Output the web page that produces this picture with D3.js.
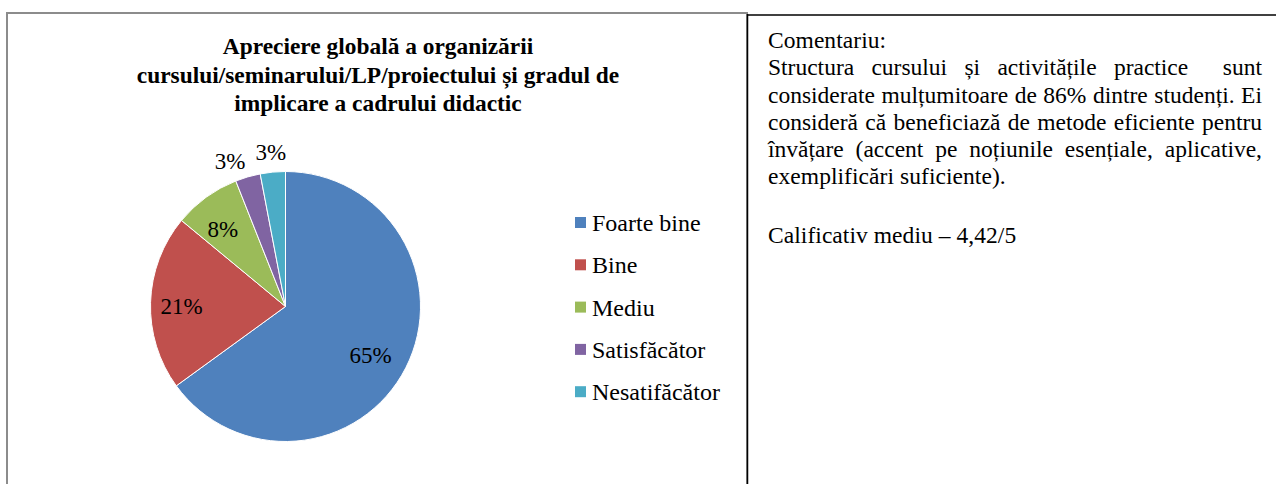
<!DOCTYPE html>
<html>
<head>
<meta charset="utf-8">
<script src="https://cdn.jsdelivr.net/npm/d3@7"></script>
<style>
  body { margin: 0; background: #fff; }
  #wrap { position: relative; width: 1276px; height: 484px; overflow: hidden; }
  #note { position: absolute; left: 768px; top: 27px; width: 494px;
          font-family: "Liberation Serif", "Times New Roman", serif; font-size: 23.5px;
          line-height: 27.3px; color: #000; }
  #note .j { text-align: justify; text-align-last: justify; white-space: pre-wrap; }
  #note .s { letter-spacing: 0.06px; }
</style>
</head>
<body>
<div id="wrap"><div id="chart"></div><div id="note"></div></div>
<script>
// data
const categories = ["Foarte bine", "Bine", "Mediu", "Satisfăcător", "Nesatifăcător"];
const values = [65, 21, 8, 3, 3];
const colors = ["#4F81BD", "#C0504D", "#9BBB59", "#8064A2", "#4BACC6"];
const titleLines = ["Apreciere globală a organizării",
                    "cursului/seminarului/LP/proiectului și gradul de",
                    "implicare a cadrului didactic"];
const noteLines = ["Structura cursului și activitățile practice  sunt",
                   "considerate mulțumitoare de 86% dintre studenți. Ei",
                   "consideră că beneficiază de metode eficiente pentru",
                   "învățare (accent pe noțiunile esențiale, aplicative,"];
const noteLast = "exemplificări suficiente).";
const noteScore = "Calificativ mediu – 4,42/5";

const W = 1276, H = 484;
const font = '"Liberation Serif", "Times New Roman", serif';

const svg = d3.select("#chart").append("svg").attr("width", W).attr("height", H);
svg.append("rect").attr("width", W).attr("height", H).attr("fill", "#fff");

// chart box
svg.append("rect")
    .attr("x", 7).attr("y", 13).attr("width", 740).attr("height", 520)
    .attr("fill", "none").attr("stroke", "#8c8c8c").attr("stroke-width", 2);

// table lines on the right
svg.append("line").attr("x1", 747.5).attr("x2", 747.5).attr("y1", 14).attr("y2", H)
    .attr("stroke", "#000").attr("stroke-width", 1.5);
svg.append("line").attr("x1", 747).attr("x2", W).attr("y1", 15).attr("y2", 15)
    .attr("stroke", "#000").attr("stroke-width", 1.5);

// title
svg.append("text")
    .attr("x", 378).attr("y", 54)
    .attr("text-anchor", "middle")
    .style("font-family", font).style("font-weight", "bold").style("font-size", "23.4px")
    .selectAll("tspan").data(titleLines).enter().append("tspan")
    .attr("x", 378).attr("dy", (d, i) => i ? 28.5 : 0)
    .text(d => d);

// pie
const cx = 285.5, cy = 306.5, R = 135;
const data = categories.map((c, i) => ({ name: c, value: values[i], color: colors[i] }));
const pie = d3.pie().sort(null).value(d => d.value);
const arcs = pie(data);
const arc = d3.arc().innerRadius(0).outerRadius(R);

const g = svg.append("g").attr("transform", `translate(${cx},${cy})`);
g.selectAll("path").data(arcs).enter().append("path")
    .attr("d", arc)
    .attr("fill", d => d.data.color)
    .attr("stroke", "#fff").attr("stroke-width", 1);

const inArc = d3.arc().innerRadius(100).outerRadius(100);
const outArc = d3.arc().innerRadius(156).outerRadius(156);
// small shift so the two tiny outside labels do not touch
const nudge = { "Satisfăcător": [-12, 4] };

g.selectAll("text.lbl").data(arcs).enter().append("text")
    .attr("class", "lbl")
    .attr("transform", d => {
        const inside = d.data.value >= 5;
        const p = (inside ? inArc : outArc).centroid(d);
        const n = nudge[d.data.name] || (inside ? [-4, 3] : [0, 1]);
        return `translate(${p[0] + n[0]},${p[1] + n[1]})`;
    })
    .attr("text-anchor", "middle")
    .attr("dy", "0.35em")
    .style("font-family", font).style("font-size", "23px")
    .text(d => d.data.value + "%");

// legend
const legend = svg.append("g").attr("transform", "translate(575,223)");
const row = legend.selectAll("g").data(data).enter().append("g")
    .attr("transform", (d, i) => `translate(0,${i * 42.3})`);
row.append("rect").attr("x", 0).attr("y", -6).attr("width", 11).attr("height", 11)
    .attr("fill", d => d.color);
row.append("text").attr("x", 17).attr("y", 0).attr("dy", "0.33em")
    .style("font-family", font).style("font-size", "24px")
    .text(d => d.name);

// comment text
const note = d3.select("#note");
note.append("div").attr("class", "s").text("Comentariu:");
noteLines.forEach(t => note.append("div").attr("class", "j").text(t));
note.append("div").attr("class", "s").text(noteLast);
note.append("div").attr("class", "s").style("margin-top", "31.5px").text(noteScore);
</script>
</body>
</html>
